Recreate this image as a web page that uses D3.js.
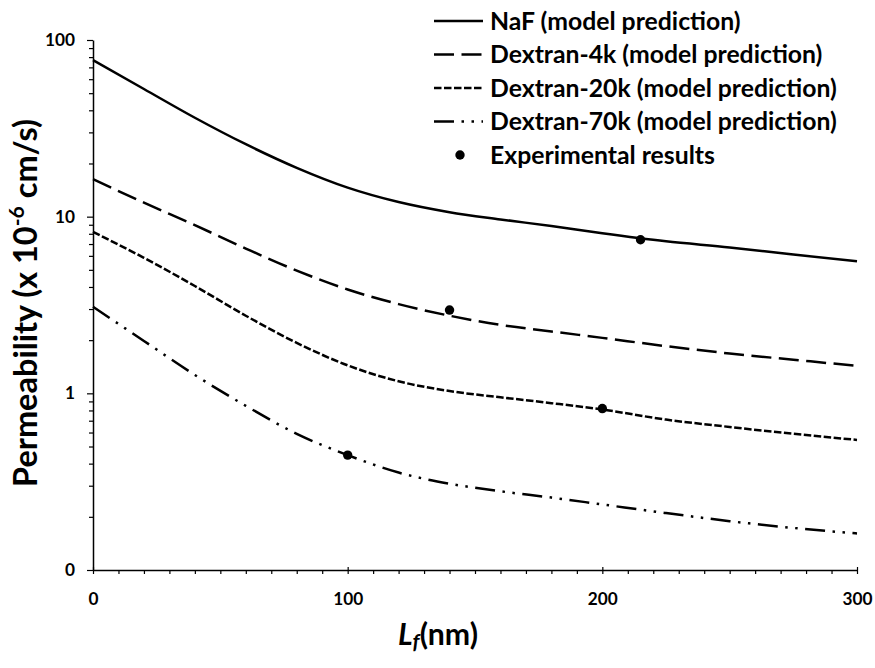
<!DOCTYPE html>
<html><head><meta charset="utf-8">
<script src="https://cdn.jsdelivr.net/npm/d3@7"></script>
<style>
html,body{margin:0;padding:0;background:#fff;}
svg{display:block;font-family:Lato,"Open Sans",sans-serif;font-weight:bold;}
</style></head><body>
<svg id="chart" width="875" height="668"></svg>
<script>
// ---- data ----
const lf = [0, 20, 40, 60, 80, 100, 120, 140, 160, 180, 200, 225, 250, 275, 300];
const nafModel   = [77, 52.8, 36.3, 25.7, 18.9, 14.6, 12.1, 10.6, 9.65, 8.85, 8.05, 7.25, 6.7, 6.1, 5.6];
const dex4kModel = [16.3, 12.0, 8.95, 6.6, 4.95, 3.87, 3.2, 2.75, 2.44, 2.24, 2.06, 1.85, 1.68, 1.55, 1.43];
const dex20kModel= [8.2, 5.85, 4.05, 2.75, 1.93, 1.44, 1.17, 1.03, 0.95, 0.88, 0.81, 0.71, 0.645, 0.59, 0.545];
const dex70kModel= [3.09, 1.98, 1.27, 0.85, 0.59, 0.447, 0.356, 0.308, 0.279, 0.257, 0.235, 0.21, 0.189, 0.173, 0.161];
const expLf  = [215, 140, 200, 100];
const expVal = [7.4, 2.96, 0.82, 0.447];
const seriesNames = ["NaF (model prediction)", "Dextran-4k (model prediction)",
                     "Dextran-20k (model prediction)", "Dextran-70k (model prediction)"];
const expName = "Experimental results";
const xTickValues = [0, 100, 200, 300];
const xTickLabels = ["0", "100", "200", "300"];
const yTickValues = [0.1, 1, 10, 100];
const yTickLabels = ["0", "1", "10", "100"];

// ---- styles ----
const seriesData = [nafModel, dex4kModel, dex20kModel, dex70kModel];
const dashes = ["none", "20,7.5", "7.5,2.5", "20,7.5,2.5,7.5,2.5,7.5"];
const LW = 2.5;

const svg = d3.select("#chart");
const x = d3.scaleLinear().domain([0, 300]).range([93, 857]);
const y = d3.scaleLog().domain([0.1, 100]).range([570, 40]);

function fit(sel, target) {
  const n = sel.node();
  const fs = parseFloat(sel.attr("font-size"));
  const w = n.getComputedTextLength();
  const nf = fs * target / w;
  sel.attr("font-size", nf);
  return nf;
}

// ---- y axis ----
const yMinor = [];
for (let e = -1; e < 2; e++) for (let k = 2; k <= 9; k++) yMinor.push(k * Math.pow(10, e));
const gyMinor = svg.append("g").attr("transform", "translate(93,0)")
  .call(d3.axisLeft(y).tickValues(yMinor).tickSize(4).tickFormat(""));
gyMinor.select(".domain").remove();
const gy = svg.append("g").attr("transform", "translate(93,0)")
  .call(d3.axisLeft(y).tickValues(yTickValues).tickSizeInner(6).tickSizeOuter(0).tickPadding(12)
    .tickFormat((d, i) => yTickLabels[i]));
gy.selectAll("text").attr("font-size", 17).attr("font-family", "Lato").attr("font-weight", "bold").attr("fill", "#000");
svg.selectAll("g.tick line").attr("stroke", "#000").attr("stroke-width", 1.2);
gy.select(".domain").attr("stroke", "#000").attr("stroke-width", 1.5);

// ---- x axis ----
const xMinor = d3.range(10, 300, 10).filter(v => v % 100 !== 0);
const gxMinor = svg.append("g").attr("transform", "translate(0,570)")
  .call(d3.axisBottom(x).tickValues(xMinor).tickSize(4).tickFormat(""));
gxMinor.select(".domain").remove();
gxMinor.selectAll("line").attr("stroke", "#000").attr("stroke-width", 1.2);
const gx = svg.append("g").attr("transform", "translate(0,570)")
  .call(d3.axisBottom(x).tickValues(xTickValues).tickSizeInner(4).tickSizeOuter(0).tickPadding(19)
    .tickFormat((d, i) => xTickLabels[i]));
gx.selectAll("line").attr("y1", -3).attr("stroke", "#000").attr("stroke-width", 1.2);
gx.selectAll("text").attr("font-size", 17).attr("font-family", "Lato").attr("font-weight", "bold").attr("fill", "#000");
gx.select(".domain").attr("stroke", "#000").attr("stroke-width", 1.5);

// fit tick label size to reference
const refTick = gy.selectAll("text").filter((d) => d === 100);
const tfs = fit(refTick, 30);
gy.selectAll("text").attr("font-size", tfs);
gx.selectAll("text").attr("font-size", tfs);

// ---- curves ----
const line = d3.line().x((d, i) => x(lf[i])).y(d => y(d)).curve(d3.curveMonotoneX);
seriesData.forEach((s, k) => {
  svg.append("path").datum(s).attr("d", line)
    .attr("fill", "none").attr("stroke", "#000").attr("stroke-width", LW)
    .attr("stroke-dasharray", dashes[k] === "none" ? null : dashes[k]);
});
svg.append("g").selectAll("circle").data(expVal).join("circle")
  .attr("cx", (d, i) => x(expLf[i])).attr("cy", d => y(d)).attr("r", 4.7).attr("fill", "#000");

// ---- legend ----
const legY = [21, 54.5, 88, 121.5, 155];
const lg = svg.append("g");
const legTexts = [];
seriesNames.forEach((nm, k) => {
  lg.append("line").attr("x1", 434).attr("x2", 483).attr("y1", legY[k]).attr("y2", legY[k])
    .attr("stroke", "#000").attr("stroke-width", LW)
    .attr("stroke-dasharray", dashes[k] === "none" ? null : dashes[k]);
  legTexts.push(lg.append("text").attr("x", 490).attr("y", legY[k]).attr("dy", "0.36em")
    .attr("font-size", 20).attr("fill", "#000").text(nm));
});
lg.append("circle").attr("cx", 460).attr("cy", legY[4]).attr("r", 4.7).attr("fill", "#000");
legTexts.push(lg.append("text").attr("x", 490).attr("y", legY[4]).attr("dy", "0.36em")
  .attr("font-size", 20).attr("fill", "#000").text(expName));
const lfs = fit(legTexts[2], 347);
legTexts.forEach(t => t.attr("font-size", lfs));

// ---- axis titles ----
const yt = svg.append("text").attr("transform", "translate(37,303) rotate(-90)")
  .attr("text-anchor", "middle").attr("font-size", 22).attr("fill", "#000");
yt.append("tspan").text("Permeability (x 10");
yt.append("tspan").attr("font-size", "0.65em").attr("dy", "-0.6em").text("-6");
yt.append("tspan").attr("dy", "0.39em").text(" cm/s)");
fit(yt, 368);

const xt = svg.append("text").attr("x", 438).attr("y", 645)
  .attr("text-anchor", "middle").attr("font-size", 24).attr("fill", "#000");
xt.append("tspan").attr("font-style", "italic").text("L");
xt.append("tspan").attr("font-style", "italic").attr("font-size", "0.7em").attr("dy", "0.2em").text("f");
xt.append("tspan").attr("dy", "-0.14em").text("(nm)");
fit(xt, 80);
</script>
</body></html>
